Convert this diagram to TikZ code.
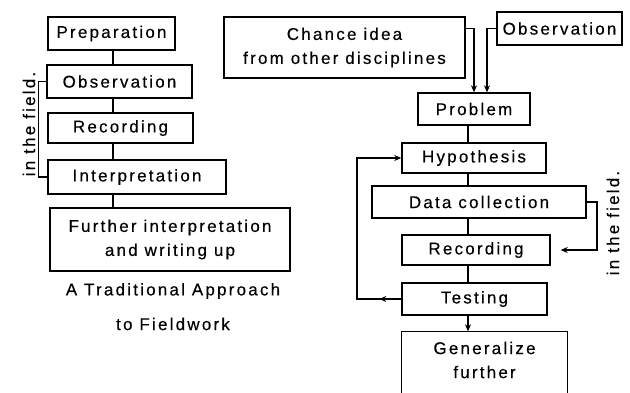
\documentclass[tikz,border=0pt]{standalone}
\usepackage{fontspec}
\setmainfont{Liberation Sans}
\newfontfamily\spacedsans[LetterSpace=13,FakeBold=0.3]{Liberation Sans}
\newcommand\boxfont{\spacedsans\fontsize{17}{24}\selectfont}
\usetikzlibrary{arrows.meta}

\begin{document}
\begin{tikzpicture}[x=1pt,y=-1pt,
  box/.style={draw, line width=1.4pt, inner sep=0pt, align=center, font=\boxfont},
  label/.style={font=\boxfont, inner sep=0pt},
  link/.style={line width=1.4pt},
  arr/.style={line width=1.4pt, -{Stealth[length=7pt,width=6pt]}},
  ]
\fill[white] (0,0) rectangle (630,392);
\useasboundingbox (0,0) rectangle (630,392);

% ---- traditional approach (left column) ----
\node[box, minimum width=127pt, minimum height=33pt] (prep)    at (111.5,33.5) {Preparation};
\node[box, minimum width=145pt, minimum height=33pt] (obsL)    at (119.5,81.5) {Observation};
\node[box, minimum width=145pt, minimum height=30pt] (recL)    at (120.5,128)  {Recording};
\node[box, minimum width=178pt, minimum height=34pt] (interp)  at (137,177)    {Interpretation};
\node[box, minimum width=240pt, minimum height=63pt] (further) at (170,239.5)  {Further interpretation\\and writing up};
\node[label] (cap1) at (173,291) {A Traditional Approach};
\node[label] (cap2) at (173,324) {to Fieldwork};
\node[label, rotate=90] (fieldL) at (29,124) {in the field.};

\coordinate (spineL) at (113,0);
\draw[link] (prep.south -| spineL)   -- (obsL.north -| spineL);
\draw[link] (obsL.south -| spineL)   -- (recL.north -| spineL);
\draw[link] (recL.south -| spineL)   -- (interp.north -| spineL);
\draw[link] (interp.south -| spineL) -- (further.north -| spineL);
\draw[link] (obsL.west) -- ++(-8,0) |- (interp.west);

% ---- scientific approach (right column) ----
\node[box, minimum width=241pt, minimum height=61pt] (chance)  at (344.5,47.5) {Chance idea\\from other disciplines};
\node[box, minimum width=125pt, minimum height=33pt] (obsR)    at (559.5,28.5) {Observation};
\node[box, minimum width=112pt, minimum height=32pt] (problem) at (474,109)    {Problem};
\node[box, minimum width=144pt, minimum height=30pt] (hyp)     at (474,158)    {Hypothesis};
\node[box, minimum width=214pt, minimum height=32pt] (data)    at (479,202)    {Data collection};
\node[box, minimum width=148pt, minimum height=30pt] (recR)    at (476,250)    {Recording};
\node[box, minimum width=145pt, minimum height=32pt] (test)    at (474.5,299)  {Testing};
\node[box, draw=none, minimum width=165pt, minimum height=56pt] (gen) at (484.5,360) {Generalize\\further};
\draw[link] ([yshift=-30pt]gen.south west) |- (gen.north east) -- ([yshift=-30pt]gen.south east);
\node[label, rotate=90] (fieldR) at (613,223) {in the field.};

\draw[arr] (chance.east |- obsR.west) -| (problem.north);
\draw[arr] (obsR.west) -| ([xshift=13pt]problem.north);

\coordinate (spineR) at (468,0);
\draw[link] (problem.south -| spineR) -- (hyp.north -| spineR);
\draw[link] (hyp.south -| spineR)     -- (data.north -| spineR);
\draw[link] (data.south -| spineR)    -- (recR.north -| spineR);
\draw[link] (recR.south -| spineR)    -- (test.north -| spineR);
\draw[arr]  (test.south -| spineR)    -- (gen.north -| spineR);

\coordinate (loopX) at (357,0);
\draw[arr] (test.west) -- (loopX |- test.west) |- (hyp.west);
\draw[arr] (test.west) -- ([xshift=-22pt]test.west);

\coordinate (fieldX) at (597,0);
\draw[arr] (data.east) -| (fieldX |- recR.east) -- ([xshift=10pt]recR.east);
\end{tikzpicture}
\end{document}
